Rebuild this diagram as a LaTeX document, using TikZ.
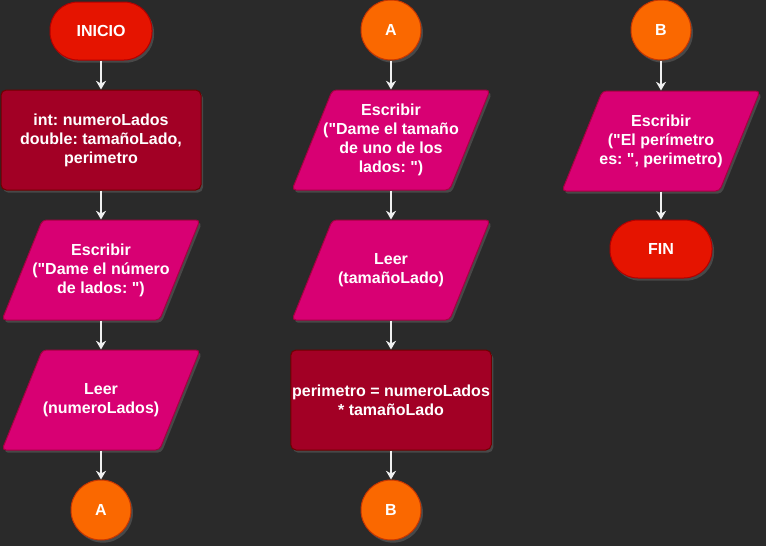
\documentclass[tikz,border=0pt]{standalone}
\usepackage{fontspec}
\setmainfont{Liberation Sans}
\frenchspacing
\usetikzlibrary{arrows.meta}
\usetikzlibrary{shapes,shapes.geometric,shapes.misc}
\usetikzlibrary{shadows}
\definecolor{fondo}{HTML}{2A2A2A}
\definecolor{rojo}{HTML}{E51400}
\definecolor{rojoborde}{HTML}{B20000}
\definecolor{vino}{HTML}{A20025}
\definecolor{vinoborde}{HTML}{6F0000}
\definecolor{rosa}{HTML}{D80073}
\definecolor{rosaborde}{HTML}{A50040}
\definecolor{naranja}{HTML}{FA6800}
\definecolor{naranjaborde}{HTML}{C73500}
\definecolor{linea}{HTML}{F0F0F0}
\newcommand{\cq}{\textquotedbl}
\tikzset{>=stealth}
\tikzset{
  sombra/.style={drop shadow={shadow xshift=1.5pt, shadow yshift=-2pt, opacity=0.35}},
  rotulo/.style={font=\bfseries\fontsize{12}{14.25}\selectfont, text=white, align=center},
  terminal/.style={rotulo, sombra, rectangle, rounded corners=21pt, fill=rojo, draw=rojoborde, line width=0.75pt, minimum width=76.5pt, minimum height=43.5pt},
  proceso/.style={rotulo, sombra, rectangle, rounded corners=4pt, fill=vino, draw=vinoborde, line width=0.75pt, inner sep=1pt, minimum width=150pt, minimum height=75pt},
  entrada/.style={sombra, trapezium, trapezium left angle=68, trapezium right angle=112, trapezium stretches body, rounded corners=3pt, fill=rosa, draw=rosaborde, line width=0.75pt, inner xsep=0pt, inner ysep=37.5pt, minimum width=148.5pt},
  conector/.style={rotulo, sombra, circle, fill=naranja, draw=naranjaborde, line width=0.75pt, minimum size=45pt},
  flecha/.style={-{Stealth[length=6.5pt, width=7.5pt, inset=2pt]}, line width=1pt, draw=linea},
}
\begin{document}
\begin{tikzpicture}[x=0.75pt, y=-0.75pt]
      \fill[fondo] (0,0) rectangle (766,546);
      \useasboundingbox (0,0) rectangle (766,546);
      % primera columna
      \node[terminal] (inicio) at (101,31) {INICIO};
      \node[proceso] (decl) at (101,140) {int: numeroLados\\double: tamañoLado,\\perimetro};
      \node[entrada, label={[rotulo]center:{Escribir\\(\cq Dame el número\\de lados: \cq)}}] (pedirlados) at (101,270) {};
      \node[entrada, label={[rotulo]center:{Leer\\(numeroLados)}}] (leerlados) at (101,400) {};
      \node[conector] (salidaA) at (101,510) {A};
      % segunda columna
      \node[conector] (entradaA) at (391,30) {A};
      \node[entrada, label={[rotulo]center:{Escribir\\(\cq Dame el tamaño\\de uno de los\\lados: \cq)}}] (pedirtam) at (391,140) {};
      \node[entrada, label={[rotulo]center:{Leer\\(tamañoLado)}}] (leertam) at (391,270) {};
      \node[proceso] (calculo) at (391,400) {perimetro = numeroLados\\* tamañoLado};
      \node[conector] (salidaB) at (391,510) {B};
      % tercera columna
      \node[conector] (entradaB) at (661,30) {B};
      \node[entrada, label={[rotulo]center:{Escribir\\(\cq El perímetro\\es: \cq, perimetro)}}] (mostrar) at (661,141) {};
      \node[terminal] (fin) at (661,249) {FIN};
      % flechas
      \draw[flecha] (inicio) -- (decl);
      \draw[flecha] (decl) -- (pedirlados);
      \draw[flecha] (pedirlados) -- (leerlados);
      \draw[flecha] (leerlados) -- (salidaA);
      \draw[flecha] (entradaA) -- (pedirtam);
      \draw[flecha] (pedirtam) -- (leertam);
      \draw[flecha] (leertam) -- (calculo);
      \draw[flecha] (calculo) -- (salidaB);
      \draw[flecha] (entradaB) -- (mostrar);
      \draw[flecha] (mostrar) -- (fin);
\end{tikzpicture}
\end{document}
